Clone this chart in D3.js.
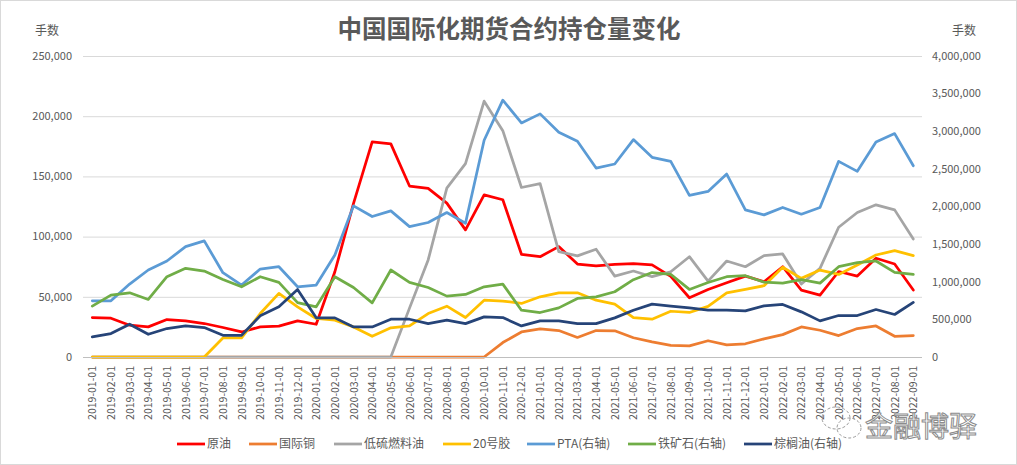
<!DOCTYPE html>
<html>
<head>
<meta charset="utf-8">
<script src="https://cdn.jsdelivr.net/npm/d3@7"></script>
<style>
  body { margin: 0; background: #fff; }
  svg text { font-family: "Noto Sans CJK SC", "Noto Sans", sans-serif; }
</style>
</head>
<body>
<div id="chart"></div>
<script>
// months 2019-01 .. 2022-09
const months = [];
for (let y = 2019; y <= 2022; y++) {
  for (let m = 1; m <= 12; m++) {
    if (y === 2022 && m > 9) break;
    months.push(`${y}-${String(m).padStart(2, "0")}-01`);
  }
}

// left axis series (thousand lots)
const crudeOil = [32.8, 32.2, 26.4, 25, 31.1, 30, 27.8, 24.5, 20.8, 25, 25.6, 30,
  27.2, 70.8, 127.6, 178.7, 177, 142, 140, 127.8, 105.6, 134.7, 130.6, 85.3,
  83.3, 91.7, 77.2, 75.6, 77, 77.5, 76.5, 67, 49.2, 56, 61.7, 67.2,
  62.5, 75, 55.5, 51.4, 71, 67.2, 82, 77.2, 55.6];
const copper = [0, 0, 0, 0, 0, 0, 0, 0, 0, 0, 0, 0,
  0, 0, 0, 0, 0, 0, 0, 0, 0, 0, 12, 20.8,
  23.3, 22, 16.2, 22, 21.8, 16, 12.5, 9.7, 9.2, 13.5, 10, 11,
  15, 18.6, 25, 22.2, 17.8, 23.6, 25.8, 17.2, 17.8];
const lowSulfurFuel = [0, 0, 0, 0, 0, 0, 0, 0, 0, 0, 0, 0,
  0, 0, 0, 0, 0, 40.6, 80.6, 140.3, 160.6, 212.5, 188, 140.8,
  144, 87.5, 84, 89.5, 67.2, 71.4, 66.7, 70.8, 83.3, 63, 79.7, 75,
  84.2, 85.6, 60.6, 73.6, 107.8, 120, 126.4, 122.2, 98];
const rubber20 = [0, 0, 0, 0, 0, 0, 0, 15.8, 15.8, 36.1, 52.8, 41.7,
  32, 30.6, 25, 17.2, 24.2, 25.8, 36.1, 42.2, 32.8, 47.2, 46.5, 44.5,
  50, 53.3, 53.3, 47.2, 43.9, 32.8, 31.4, 38, 37, 42, 53.3, 56.1,
  59.2, 74.5, 65.3, 72.2, 68.6, 76.4, 84.7, 88.3, 84.2];

// right axis series (thousand lots)
const pta = [747, 747, 969, 1156, 1276, 1467, 1543, 1120, 956, 1169, 1200, 933,
  956, 1356, 2009, 1867, 1942, 1733, 1787, 1920, 1778, 2880, 3413, 3111,
  3231, 2987, 2867, 2511, 2565, 2889, 2653, 2600, 2147, 2200, 2431, 1956,
  1889, 1987, 1898, 1987, 2600, 2467, 2858, 2969, 2542];
const ironOre = [676, 822, 853, 765, 1067, 1178, 1142, 1031, 933, 1067, 991, 722,
  667, 1067, 924, 720, 1156, 991, 924, 809, 831, 933, 969, 622,
  591, 653, 778, 800, 867, 1027, 1122, 1098, 898, 990, 1067, 1080,
  995, 982, 1027, 982, 1200, 1253, 1276, 1125, 1098];
const palmOil = [267, 311, 436, 302, 378, 413, 391, 289, 289, 547, 667, 898,
  520, 520, 400, 400, 502, 502, 444, 489, 444, 533, 524, 413,
  480, 480, 444, 444, 520, 622, 702, 676, 653, 622, 622, 613,
  680, 698, 600, 480, 551, 551, 631, 565, 725];

const leftTicks = [0, 50000, 100000, 150000, 200000, 250000];
const rightTicks = [0, 500000, 1000000, 1500000, 2000000, 2500000, 3000000, 3500000, 4000000];

const series = [
  { name: "原油", values: crudeOil, axis: "left", color: "#ff0000" },
  { name: "国际铜", values: copper, axis: "left", color: "#ed7d31" },
  { name: "低硫燃料油", values: lowSulfurFuel, axis: "left", color: "#a5a5a5" },
  { name: "20号胶", values: rubber20, axis: "left", color: "#ffc000" },
  { name: "PTA(右轴)", values: pta, axis: "right", color: "#5b9bd5" },
  { name: "铁矿石(右轴)", values: ironOre, axis: "right", color: "#70ad47" },
  { name: "棕榈油(右轴)", values: palmOil, axis: "right", color: "#264478" }
];

const width = 1017, height = 465;
const svg = d3.select("#chart").append("svg")
  .attr("width", width)
  .attr("height", height);

svg.append("rect")
  .attr("x", 0.5).attr("y", 0.5)
  .attr("width", width - 1).attr("height", height - 1)
  .attr("fill", "#fff")
  .attr("stroke", "#d9d9d9");

const plotLeft = 83, plotRight = 922, plotTop = 56, plotBottom = 357;

const x = d3.scalePoint().domain(months).range([92.3, 913.3]);
const yLeft = d3.scaleLinear().domain([0, 250000]).range([plotBottom, plotTop]);
const yRight = d3.scaleLinear().domain([0, 4000000]).range([plotBottom, plotTop]);
const fmt = d3.format(",");

// Gridlines
svg.append("g")
  .selectAll("line")
  .data(leftTicks.filter((d) => d > 0))
  .enter()
  .append("line")
  .attr("x1", plotLeft).attr("x2", plotRight)
  .attr("y1", (d) => yLeft(d) + 0.5).attr("y2", (d) => yLeft(d) + 0.5)
  .attr("stroke", "#d9d9d9")
  .attr("stroke-width", 1);

// Left axis labels
svg.append("g")
  .selectAll("text")
  .data(leftTicks)
  .enter()
  .append("text")
  .attr("x", 72)
  .attr("y", (d) => yLeft(d))
  .attr("dy", "0.35em")
  .attr("text-anchor", "end")
  .attr("font-size", 11)
  .attr("fill", "#595959")
  .text((d) => fmt(d));

// Right axis labels
svg.append("g")
  .selectAll("text")
  .data(rightTicks)
  .enter()
  .append("text")
  .attr("x", 932)
  .attr("y", (d) => yRight(d))
  .attr("dy", "0.35em")
  .attr("text-anchor", "start")
  .attr("font-size", 11)
  .attr("fill", "#595959")
  .text((d) => fmt(d));

// X axis labels
svg.append("g")
  .selectAll("text")
  .data(months)
  .enter()
  .append("text")
  .attr("transform", (d) => `translate(${x(d) + 4},366) rotate(-90)`)
  .attr("text-anchor", "end")
  .attr("font-size", 10.5)
  .attr("fill", "#595959")
  .text((d) => d);

// Lines
const lineLeft = d3.line().x((d, i) => x(months[i])).y((d) => yLeft(d * 1000));
const lineRight = d3.line().x((d, i) => x(months[i])).y((d) => yRight(d * 1000));

svg.append("g")
  .selectAll("path")
  .data(series)
  .enter()
  .append("path")
  .attr("d", (s) => (s.axis === "left" ? lineLeft : lineRight)(s.values))
  .attr("fill", "none")
  .attr("stroke", (s) => s.color)
  .attr("stroke-width", 2.75)
  .attr("stroke-linejoin", "round")
  .attr("stroke-linecap", "round");

// zero axis line
svg.append("line")
  .attr("x1", plotLeft).attr("x2", plotRight)
  .attr("y1", plotBottom + 0.5).attr("y2", plotBottom + 0.5)
  .attr("stroke", "#bfbfbf")
  .attr("stroke-width", 1);

// Title and axis titles
svg.append("text")
  .attr("x", 509).attr("y", 38)
  .attr("text-anchor", "middle")
  .attr("font-size", 24.5)
  .attr("font-weight", "bold")
  .attr("fill", "#595959")
  .text("中国国际化期货合约持仓量变化");

svg.append("text")
  .attr("x", 35).attr("y", 35)
  .attr("font-size", 12)
  .attr("fill", "#595959")
  .text("手数");

svg.append("text")
  .attr("x", 952).attr("y", 35)
  .attr("font-size", 12)
  .attr("fill", "#595959")
  .text("手数");

// Legend
const legendX = [177, 249, 334, 443, 527, 628, 744];
const legend = svg.append("g")
  .selectAll("g")
  .data(series)
  .enter()
  .append("g")
  .attr("transform", (d, i) => `translate(${legendX[i]},444)`);

legend.append("line")
  .attr("x1", 0).attr("x2", 28)
  .attr("stroke", (d) => d.color)
  .attr("stroke-width", 2.75);

legend.append("text")
  .attr("x", 30)
  .attr("dy", "0.35em")
  .attr("font-size", 12)
  .attr("fill", "#595959")
  .text((d) => d.name);

// Watermark
const wm = svg.append("g").attr("fill", "none").attr("stroke", "#9a9a9a").attr("stroke-width", 1);
wm.append("ellipse").attr("cx", 836).attr("cy", 418).attr("rx", 14).attr("ry", 11).attr("stroke-dasharray", "3,2");
wm.append("ellipse").attr("cx", 849).attr("cy", 428).attr("rx", 12).attr("ry", 10).attr("stroke-dasharray", "3,2");
svg.append("text")
  .attr("x", 865).attr("y", 437)
  .attr("font-size", 28)
  .attr("fill", "#fff")
  .attr("stroke", "#8c8c8c")
  .attr("stroke-width", 1)
  .text("金融博驿");
</script>
</body>
</html>
